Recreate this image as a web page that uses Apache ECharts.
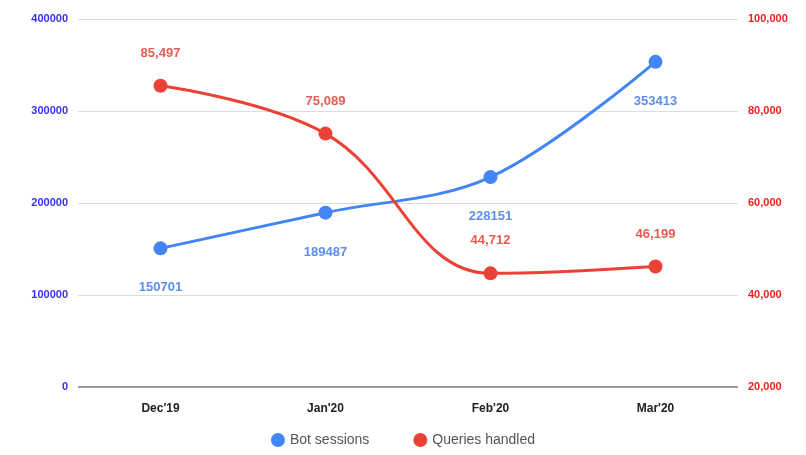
<!DOCTYPE html>
<html><head><meta charset="utf-8">
<script src="https://cdn.jsdelivr.net/npm/echarts@6/dist/echarts.min.js"></script>
<style>html,body{margin:0;padding:0;background:#fff}#c{width:806px;height:455px}</style>
</head><body><div id="c"></div>
<script>
const categories = ["Dec'19", "Jan'20", "Feb'20", "Mar'20"];
const botSessions = [150701, 189487, 228151, 353413];
const queriesHandled = [85497, 75089, 44712, 46199];
const leftTicks = [0, 100000, 200000, 300000, 400000];
const rightTicks = [20000, 40000, 60000, 80000, 100000];

const chart = echarts.init(document.getElementById('c'));
const fmt = v => v.toLocaleString('en-US');
const FONT = 'Arial, Liberation Sans, sans-serif';
chart.setOption({
  animation: false,
  grid: {left: 78, right: 68, top: 19, bottom: 68},
  legend: {
    bottom: 3, left: 'center', icon: 'circle', itemWidth: 14, itemHeight: 14, itemGap: 44,
    textStyle: {color: '#555', fontSize: 14, fontFamily: FONT},
    data: ['Bot sessions', 'Queries handled']
  },
  xAxis: {
    type: 'category', data: categories, boundaryGap: true,
    axisLine: {show: false}, axisTick: {show: false},
    axisLabel: {color: '#222', fontWeight: 'bold', fontSize: 12, margin: 16, fontFamily: FONT}
  },
  yAxis: [
    {type: 'value', min: leftTicks[0], max: leftTicks[leftTicks.length-1], interval: 100000, position: 'left',
     axisLine: {show: false}, axisTick: {show: false},
     axisLabel: {color: '#3a2ff0', fontWeight: 'bold', fontSize: 11, margin: 10, fontFamily: FONT, formatter: v => String(v)},
     splitLine: {lineStyle: {color: '#dcdcdc'}}},
    {type: 'value', min: rightTicks[0], max: rightTicks[rightTicks.length-1], interval: 20000, position: 'right',
     axisLine: {show: false}, axisTick: {show: false},
     axisLabel: {color: '#ee2222', fontWeight: 'bold', fontSize: 11, margin: 10, formatter: fmt, fontFamily: FONT},
     splitLine: {show: false}}
  ],
  series: [
    {name: 'Bot sessions', type: 'line', yAxisIndex: 0, data: botSessions, smooth: 0.35,
     symbol: 'circle', symbolSize: 14, color: '#4285F4', lineStyle: {width: 3},
     label: {show: true, position: 'bottom', distance: 26, color: '#5b8fe8', fontWeight: 'bold', fontSize: 13, fontFamily: FONT},
     markLine: {silent: true, symbol: 'none', label: {show: false}, lineStyle: {color: '#999', width: 2, type: 'solid'}, data: [{yAxis: 0}]}},
    {name: 'Queries handled', type: 'line', yAxisIndex: 1, data: queriesHandled, smooth: 0.4,
     symbol: 'circle', symbolSize: 14, color: '#EA4335', lineStyle: {width: 3},
     label: {show: true, position: 'top', distance: 19, color: '#e85b50', fontWeight: 'bold', fontSize: 13, formatter: p => fmt(p.value), fontFamily: FONT}}
  ]
});
</script></body></html>
